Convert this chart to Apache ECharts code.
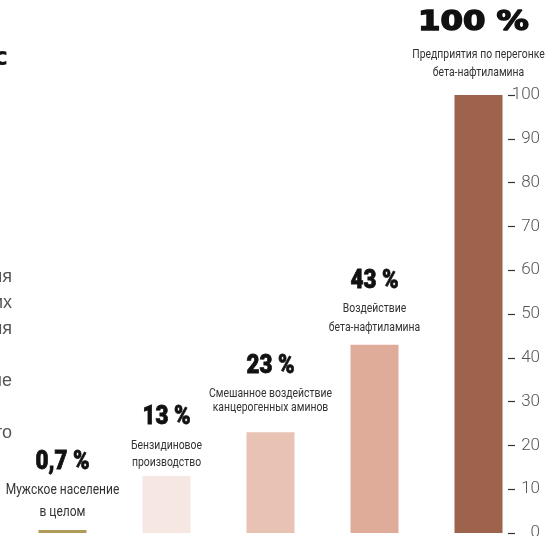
<!DOCTYPE html>
<html>
<head>
<meta charset="utf-8">
<script src="https://cdn.jsdelivr.net/npm/echarts@6/dist/echarts.min.js"></script>
<style>
  html, body { margin: 0; padding: 0; background: #fff; }
  #chart { width: 546px; height: 536px; }
</style>
</head>
<body>
<div id="chart"></div>
<script>
// Risk of bladder cancer by exposure group, percent
const categories = ['Мужское население', 'Бензидин', 'Амины', 'Бета-нафтиламин', 'Перегонка'];
const values = [0.7, 13, 23, 43, 100];
const descriptions = [
  ['Мужское население', 'в целом'],
  ['Бензидиновое', 'производство'],
  ['Смешанное воздействие', 'канцерогенных аминов'],
  ['Воздействие', 'бета-нафтиламина'],
  ['Предприятия по перегонке', 'бета-нафтиламина']
];
const yTicks = [0, 10, 20, 30, 40, 50, 60, 70, 80, 90, 100];
// Tail of the neighbouring text column, one entry per line
const sideText = ['ля', 'их', 'ия', '', 'не', '', 'то'];

const barColors = ['#b09a57', '#f6e7e3', '#e8c2b3', '#dfac9a', '#9d634c'];
// Offsets (px above the bar top) of the value line and the two caption lines
const condensedBlack = '900 26px Roboto, sans-serif';
const labelLayout = [
  { v: -67,   d1: -40,   d2: -18,   vFont: condensedBlack, vScale: 0.86, vStroke: 0.8, dSize: 15, dx: 0 },
  { v: -59,   d1: -30.5, d2: -13.5, vFont: condensedBlack, vScale: 0.86, vStroke: 0.8, dSize: 13, dx: 0 },
  { v: -66,   d1: -38.5, d2: -24.5, vFont: condensedBlack, vScale: 0.86, vStroke: 0.8, dSize: 13, dx: 0 },
  { v: -63,   d1: -36,   d2: -17,   vFont: condensedBlack, vScale: 0.86, vStroke: 0.8, dSize: 13, dx: 0 },
  { v: -72,   d1: -40.5, d2: -22,   vFont: 'bold 26px "DejaVu Sans", sans-serif', vScale: 1.24, vStroke: 1.4, dSize: 13, dx: -5 }
];
const captionScale = 0.8;

function fmt(v) {
  return String(v).replace('.', ',') + ' %';
}

function textEl(text, dx, dy, font, fill, scaleX, strokeWidth) {
  return {
    type: 'text',
    x: dx,
    y: dy,
    scaleX: scaleX,
    style: {
      text: text,
      font: font,
      fill: fill,
      stroke: strokeWidth ? fill : null,
      lineWidth: strokeWidth || 0,
      align: 'center',
      verticalAlign: 'middle',
      textAlign: 'center',
      textVerticalAlign: 'middle'
    }
  };
}

function renderLabel(params, api) {
  const i = api.value(0);
  const v = api.value(1);
  const p = api.coord([i, v]);
  const s = labelLayout[i];
  const dFont = s.dSize + 'px Roboto, sans-serif';
  return {
    type: 'group',
    x: p[0],
    y: p[1],
    silent: true,
    children: [
      textEl(fmt(v), s.dx, s.v, s.vFont, '#111', s.vScale, s.vStroke),
      textEl(descriptions[i][0], 0, s.d1, dFont, '#333', captionScale, 0),
      textEl(descriptions[i][1], 0, s.d2, dFont, '#333', captionScale, 0)
    ]
  };
}

const chart = echarts.init(document.getElementById('chart'), null, { renderer: 'canvas' });

const graphics = sideText.map((t, k) => ({
  type: 'text',
  x: 12,
  y: 277 + 26 * k,
  silent: true,
  style: {
    text: t,
    fill: '#555',
    font: '18px "Liberation Sans", sans-serif',
    textAlign: 'right',
    textVerticalAlign: 'middle'
  }
}));
graphics.push({
  type: 'text',
  x: 8,
  y: 58,
  silent: true,
  style: {
    text: 'с',
    fill: '#111',
    font: 'bold 25px "DejaVu Sans", sans-serif',
    textAlign: 'right',
    textVerticalAlign: 'middle'
  }
});

chart.setOption({
  animation: false,
  backgroundColor: '#fff',
  grid: { left: 10.5, right: 15.5, top: 95, bottom: 3, containLabel: false, outerBoundsMode: 'none' },
  xAxis: {
    type: 'category',
    data: categories,
    axisLine: { show: false },
    axisTick: { show: false },
    axisLabel: { show: false },
    splitLine: { show: false }
  },
  yAxis: {
    type: 'value',
    position: 'right',
    offset: -22.5,
    min: yTicks[0],
    max: yTicks[yTicks.length - 1],
    interval: yTicks[1] - yTicks[0],
    axisLine: { show: false },
    splitLine: { show: false },
    axisTick: { show: true, length: 7, inside: false, lineStyle: { color: '#333', width: 1.2 } },
    axisLabel: {
      show: true,
      margin: 32,
      align: 'right',
      color: '#555',
      fontFamily: 'Roboto, sans-serif',
      fontWeight: 300,
      fontSize: 17,
      formatter: v => String(v)
    }
  },
  series: [
    {
      type: 'bar',
      data: values.map((v, i) => ({ value: v, itemStyle: { color: barColors[i] } })),
      barWidth: 48,
      clip: false
    },
    {
      type: 'custom',
      data: values.map((v, i) => [i, v]),
      renderItem: renderLabel,
      clip: false,
      z: 3
    }
  ],
  graphic: graphics
});
</script>
</body>
</html>
